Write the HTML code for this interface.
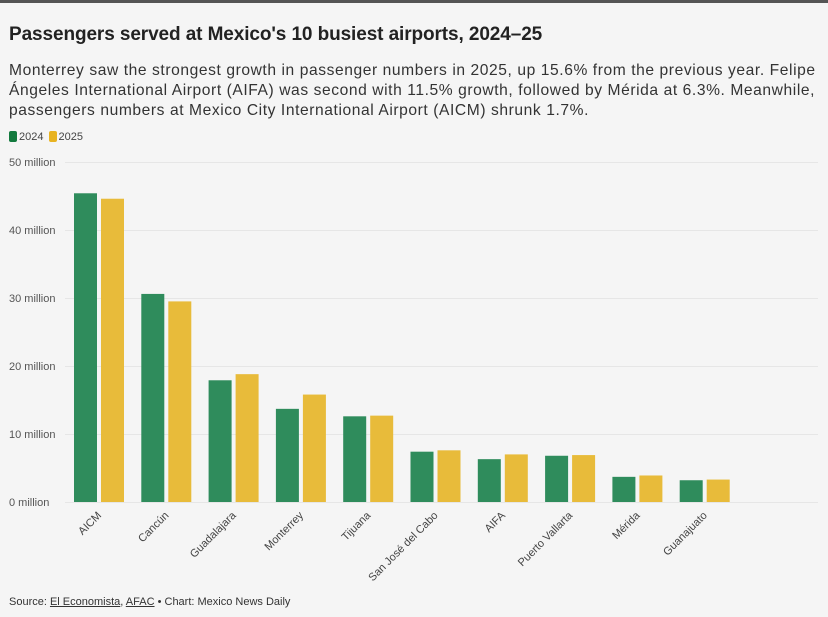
<!DOCTYPE html>
<html><head><meta charset="utf-8"><style>
body{margin:0;width:828px;height:617px;background:#f5f5f5;font-family:"Liberation Sans",sans-serif;overflow:hidden;position:relative}
.top{position:absolute;left:0;top:0;width:828px;height:3px;background:#555}
h1{position:absolute;left:9px;top:24px;margin:0;font-size:19px;font-weight:bold;color:#222;letter-spacing:-0.1px}
.sub{position:absolute;left:9px;top:61px;width:819px;font-size:15.6px;line-height:20px;color:#333;white-space:nowrap;letter-spacing:0.58px}
.leg{position:absolute;left:9px;top:131px;font-size:11px;color:#444}
.leg span{display:inline-block;width:8px;height:11px;border-radius:2px;vertical-align:-2px;margin-right:2px}
.src{position:absolute;left:9px;top:596px;font-size:11px;color:#333}
.src u{text-decoration:underline}
</style></head><body>
<div class="top"></div>
<h1>Passengers served at Mexico's 10 busiest airports, 2024–25</h1>
<div class="sub">Monterrey saw the strongest growth in passenger numbers in 2025, up 15.6% from the previous year. Felipe<br>Ángeles International Airport (AIFA) was second with 11.5% growth, followed by Mérida at 6.3%. Meanwhile,<br>passengers numbers at Mexico City International Airport (AICM) shrunk 1.7%.</div>
<div class="leg"><span style="background:#137a3e"></span>2024 <span style="background:#e8b321;margin-left:2px"></span>2025</div>
<svg width="828" height="617" style="position:absolute;left:0;top:0" font-family="Liberation Sans, sans-serif">
<g stroke="#e6e6e6" stroke-width="1">
<line x1="65" x2="818" y1="162.5" y2="162.5"/><line x1="65" x2="818" y1="230.5" y2="230.5"/><line x1="65" x2="818" y1="298.5" y2="298.5"/><line x1="65" x2="818" y1="366.5" y2="366.5"/><line x1="65" x2="818" y1="434.5" y2="434.5"/><line x1="65" x2="818" y1="502.5" y2="502.5"/>
</g>
<g font-size="11" fill="#555">
<text x="9" y="166">50 million</text><text x="9" y="234">40 million</text><text x="9" y="302">30 million</text><text x="9" y="370">20 million</text><text x="9" y="438">10 million</text><text x="9" y="506">0 million</text>
</g>
<g id="bars"></g>
<g id="labels" font-size="11" fill="#444"></g>
</svg>
<div class="src">Source: <u>El Economista</u>, <u>AFAC</u> • Chart: Mexico News Daily</div>
<script>
var d=[["AICM",45.4,44.6],["Cancún",30.6,29.5],["Guadalajara",17.9,18.8],["Monterrey",13.7,15.8],["Tijuana",12.6,12.7],["San José del Cabo",7.4,7.6],["AIFA",6.3,7.0],["Puerto Vallarta",6.8,6.9],["Mérida",3.7,3.9],["Guanajuato",3.2,3.3]];
var b="",l="";
d.forEach(function(r,i){var x=74+i*67.3;
var h1=r[1]*6.8,h2=r[2]*6.8;
b+='<rect x="'+x+'" y="'+(502-h1)+'" width="23" height="'+h1+'" fill="#2f8c5c"/>';
b+='<rect x="'+(x+27)+'" y="'+(502-h2)+'" width="23" height="'+h2+'" fill="#e8bb3a"/>';
var cx=x+28,cy=516;
l+='<text x="'+cx+'" y="'+cy+'" text-anchor="end" transform="rotate(-45 '+cx+' '+cy+')">'+r[0]+'</text>';});
document.getElementById("bars").innerHTML=b;document.getElementById("labels").innerHTML=l;
</script>
</body></html>
